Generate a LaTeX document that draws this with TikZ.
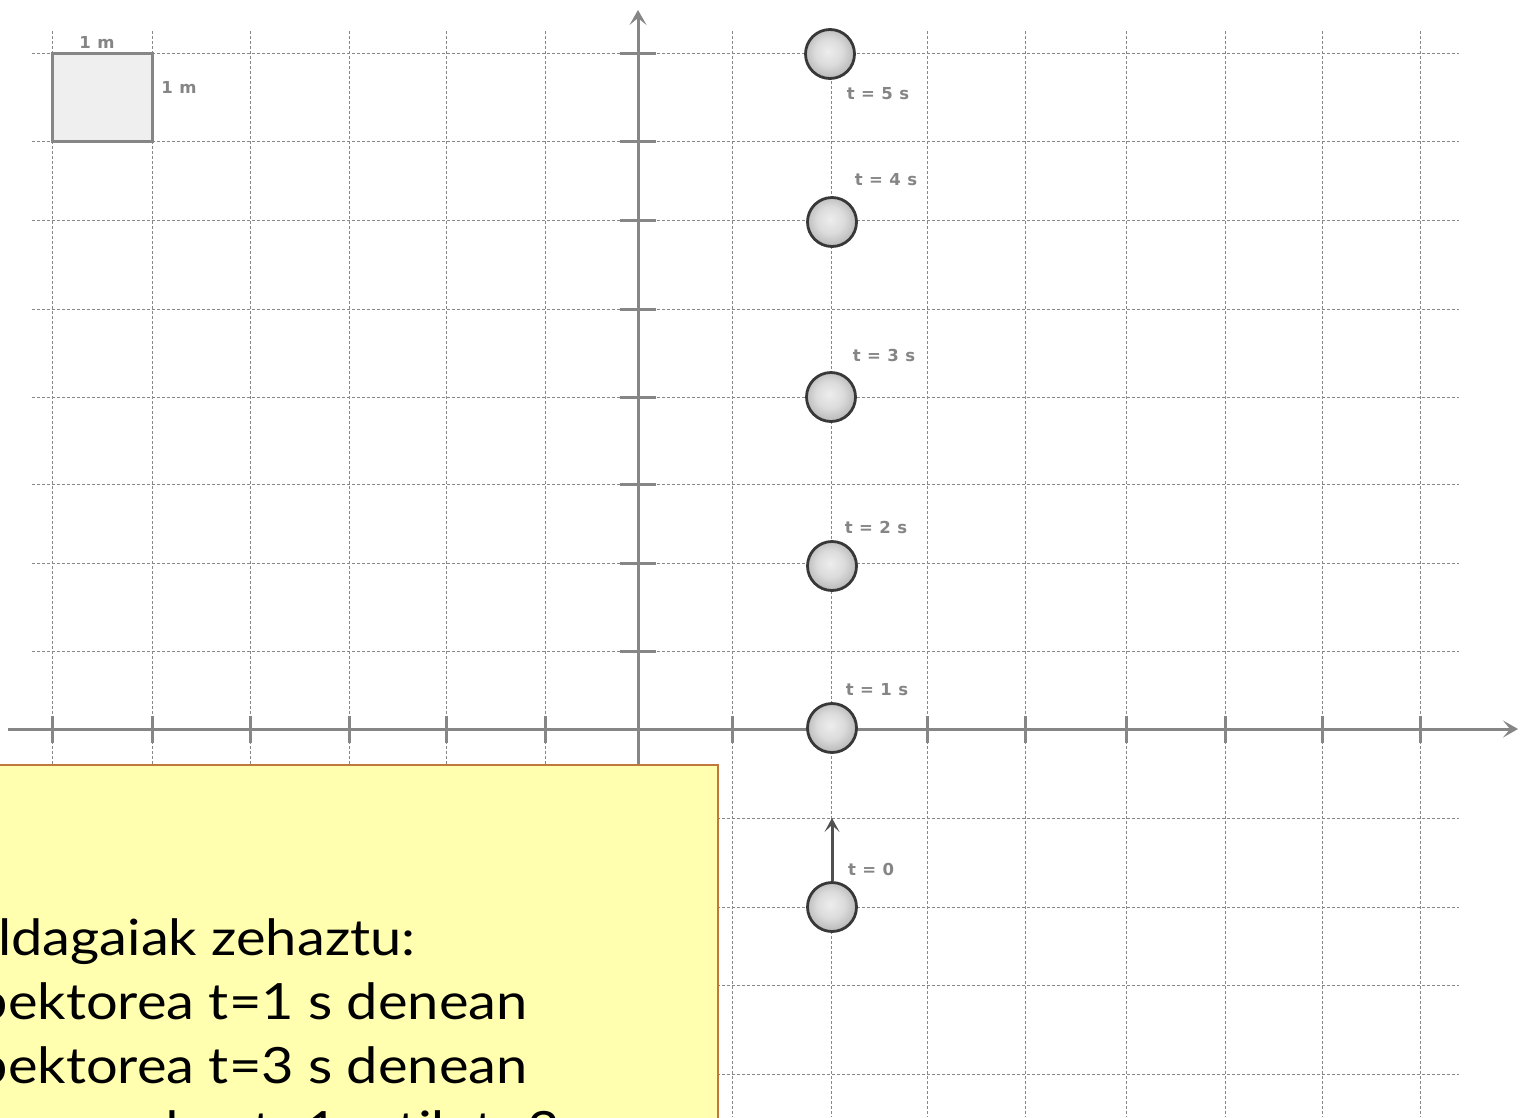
\documentclass[tikz,border=0pt]{standalone}
\usepackage{fontspec}
\usetikzlibrary{arrows.meta}
\newfontfamily\lblfont{DejaVu Sans}[LetterSpace=4]
\newfontfamily\boxfont{Lato}[FakeStretch=1.12]
\definecolor{gridc}{HTML}{888888}
\definecolor{axisc}{HTML}{868686}
\definecolor{lblc}{HTML}{858585}
\definecolor{boxfill}{HTML}{FFFFAF}
\definecolor{boxedge}{HTML}{C0783C}
\definecolor{balledge}{HTML}{383838}
\definecolor{squarefill}{HTML}{EFEFEF}
\definecolor{vecc}{HTML}{505050}
\pgfdeclareradialshading{ballshade}{\pgfpoint{-2bp}{3bp}}{color(0bp)=(black!7); color(14bp)=(black!14); color(30bp)=(black!32); color(44bp)=(black!55); color(50bp)=(black!66)}
\begin{document}
\begin{tikzpicture}[x=1pt,y=-1pt,
 gridline/.style={gridc, line width=0.9pt, dash pattern=on 3pt off 2pt},
 axisline/.style={axisc, line width=3pt},
 tickmark/.style={axisc, line width=3pt},
 ball/.style={circle, minimum size=49pt, inner sep=0pt, draw=balledge, line width=2.8pt, shade, shading=ballshade},
 tlabel/.style={font=\lblfont\bfseries\fontsize{16.5}{16.5}\selectfont, text=lblc, inner sep=0pt},
 unitbox/.style={draw=axisc, fill=squarefill, line width=3pt, inner sep=0pt},
 notebox/.style={draw=boxedge, fill=boxfill, line width=1.5pt, inner sep=0pt},
 boxtext/.style={font=\boxfont\fontsize{50}{50}\selectfont, anchor=base west, inner sep=0pt},
 vecarrow/.style={vecc, line width=3pt, -{Stealth[length=14pt,width=15pt,inset=7pt]}},
 axisarrow/.style={axisline, -{Stealth[length=15pt,width=17pt,inset=7pt]}},
]
\useasboundingbox (0,0) rectangle (1522,1117);
\clip (0,0) rectangle (1522,1117);
\fill[white] (0,0) rectangle (1522,1117);
% grid
\foreach \gx in {52,152,250,349,446,545,732,831,927,1025,1126,1225,1322,1420}
  \draw[gridline] (\gx,31) -- (\gx,1117);
\foreach \gy in {53,141,220,309,397,484,563,651,818,907,985,1074}
  \draw[gridline] (32,\gy) -- (1459,\gy);
% unit square
\node[unitbox, minimum width=100pt, minimum height=88pt] (unitsq) at (102,97) {};
\node[tlabel] (lmtop) at (97,42) {1 m};
\node[tlabel] (lmright) at (179,87) {1 m};
% axes
\coordinate (xstart) at (8,729);
\coordinate (xend) at (1518,729);
\coordinate (ystart) at (638,1117);
\coordinate (yend) at (638,10);
\draw[axisarrow] (xstart) -- (xend);
\draw[axisarrow] (ystart) -- (yend);
\foreach \gx in {52,152,250,349,446,545,732,831,927,1025,1126,1225,1322,1420}
  \draw[tickmark] (\gx,716) -- (\gx,743);
\foreach \gy in {53,141,220,309,397,484,563,651}
  \draw[tickmark] (620,\gy) -- (656,\gy);
% balls
\node[ball] (b0) at (832,907) {};
\node[ball] (b1) at (832,728) {};
\node[ball] (b2) at (832,566) {};
\node[ball] (b3) at (831,397) {};
\node[ball] (b4) at (832,222) {};
\node[ball] (b5) at (830,54) {};
\node[tlabel] (l5) at (878,94) {t = 5 s};
\node[tlabel] (l4) at (886,180) {t = 4 s};
\node[tlabel] (l3) at (884,355) {t = 3 s};
\node[tlabel] (l2) at (876,527) {t = 2 s};
\node[tlabel] (l1) at (877,690) {t = 1 s};
\node[tlabel] (l0) at (871,869) {t = 0};
\coordinate (vtip) at (832,818);
\draw[vecarrow] (b0.north) -- (vtip);
% note box
\node[notebox, anchor=north west, minimum width=722pt, minimum height=370pt] (note) at (-5,764) {};
\node[boxtext] (tx1) at (-2,955) {\llap{A}ldagaiak zehaztu:};
\node[boxtext] (tx2) at (8,1019) {\llap{b}ektorea t=1 s denean};
\node[boxtext] (tx3) at (8,1083) {\llap{b}ektorea t=3 s denean};
\node[boxtext] (tx4) at (-170,1147) {desplazamendua t=1 s-tik t=3 s-ra};
\end{tikzpicture}
\end{document}
